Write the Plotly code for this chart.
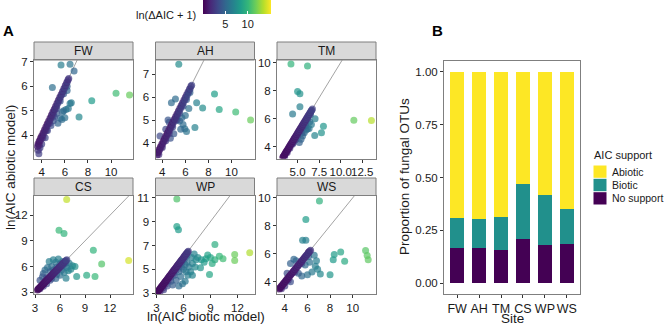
import numpy as np
import plotly.graph_objects as go

W, H = 666, 325

SITES = ["FW", "AH", "TM", "CS", "WP", "WS"]

# (ln AIC biotic model, ln AIC abiotic model) per OTU
FW = [
    (5.67, 6.87), (6.45, 6.90), (6.80, 6.62), (4.92, 5.95), (6.20, 5.83), (6.56, 5.33), (8.33, 5.41),
    (10.43, 5.72), (11.60, 5.65), (7.23, 4.75), (5.60, 4.70), (5.75, 4.65), (5.90, 5.00), (6.10, 5.05),
    (6.30, 5.10), (6.45, 5.30), (5.80, 4.95), (6.00, 4.72), (5.30, 4.90), (5.10, 4.75), (5.40, 4.50),
    (4.50, 4.20), (4.30, 3.90), (4.80, 4.40), (5.00, 4.60), (3.75, 3.25), (3.85, 3.50), (4.00, 3.65),
    (3.70, 3.40), (3.80, 3.60), (4.10, 3.90), (4.40, 4.20), (4.70, 4.50), (5.00, 4.80), (5.30, 5.10),
    (5.60, 5.40), (5.90, 5.70), (6.20, 6.00),
    (3.62, 3.55), (3.68, 3.66), (3.72, 3.62), (3.78, 3.77), (3.84, 3.76), (3.90, 3.89), (3.95, 3.86),
    (4.00, 3.99), (4.06, 3.97), (4.12, 4.11), (4.18, 4.08), (4.24, 4.23), (4.30, 4.21), (4.36, 4.35),
    (4.42, 4.33), (4.48, 4.47), (4.54, 4.45), (4.60, 4.59), (4.66, 4.57), (4.72, 4.71), (4.78, 4.69),
    (4.84, 4.83), (4.90, 4.82), (4.96, 4.95), (5.02, 4.94), (5.08, 5.07), (5.14, 5.06), (5.20, 5.19),
    (5.26, 5.18), (5.32, 5.31), (5.38, 5.30), (5.44, 5.43), (5.50, 5.42), (5.56, 5.55), (5.62, 5.55),
    (5.68, 5.67), (5.74, 5.67), (5.80, 5.79), (5.86, 5.80), (5.92, 5.91), (5.98, 5.92), (6.04, 6.03),
    (6.10, 6.05), (6.16, 6.15), (6.22, 6.18), (6.28, 6.27), (6.34, 6.32),
]
AH = [
    (5.43, 7.43), (8.53, 6.14), (6.98, 5.75), (7.50, 5.53), (8.94, 5.46), (10.37, 5.35), (11.66, 5.00),
    (6.83, 4.67), (4.79, 5.75), (5.14, 5.92), (5.50, 4.96), (5.80, 4.80), (6.10, 4.50), (5.95, 4.62),
    (5.30, 5.00), (5.70, 5.10), (4.60, 4.90), (4.30, 4.60), (4.50, 5.00), (3.80, 4.30), (6.30, 5.50),
    (5.00, 4.40), (4.70, 4.20), (6.00, 5.20), (5.60, 4.60), (3.70, 3.50), (4.00, 3.80), (4.30, 4.10),
    (4.60, 4.40), (4.90, 4.70), (5.20, 5.00), (5.50, 5.30), (5.80, 5.60), (6.10, 5.90), (6.40, 6.20),
    (3.55, 3.47), (3.60, 3.59), (3.66, 3.58), (3.72, 3.71), (3.78, 3.70), (3.84, 3.83), (3.90, 3.82),
    (3.96, 3.95), (4.02, 3.94), (4.08, 4.07), (4.14, 4.06), (4.20, 4.19), (4.26, 4.18), (4.32, 4.31),
    (4.38, 4.30), (4.44, 4.43), (4.50, 4.42), (4.56, 4.55), (4.62, 4.54), (4.68, 4.67), (4.74, 4.66),
    (4.80, 4.79), (4.86, 4.78), (4.92, 4.91), (4.98, 4.90), (5.04, 5.03), (5.10, 5.02), (5.16, 5.15),
    (5.22, 5.14), (5.28, 5.27), (5.34, 5.26), (5.40, 5.39), (5.46, 5.38), (5.52, 5.51), (5.58, 5.50),
    (5.64, 5.63), (5.70, 5.62), (5.76, 5.75), (5.82, 5.74), (5.88, 5.87), (5.94, 5.86), (6.00, 5.99),
    (6.06, 5.98), (6.12, 6.11), (6.18, 6.10), (6.24, 6.23), (6.30, 6.22), (6.36, 6.35), (6.42, 6.36),
    (6.48, 6.47), (6.55, 6.52),
]
TM = [
    (4.23, 9.89), (6.15, 9.75), (5.00, 7.94), (5.27, 7.78), (5.27, 6.85), (4.42, 6.35), (7.03, 6.00),
    (8.00, 5.48), (6.34, 5.32), (7.77, 5.01), (6.99, 4.82), (5.77, 5.01), (5.58, 4.78), (5.20, 4.31),
    (11.53, 5.90), (13.57, 5.88), (6.15, 5.30), (5.90, 5.50), (6.00, 5.20), (5.50, 5.00), (4.80, 4.55),
    (4.50, 4.30), (5.40, 4.55), (6.60, 5.60), (6.40, 5.80), (3.50, 3.30), (3.80, 3.60), (4.10, 3.90),
    (4.40, 4.20), (4.70, 4.50), (5.00, 4.80), (5.30, 5.10), (5.60, 5.40), (5.90, 5.70), (6.20, 6.00),
    (6.50, 6.30),
    (3.28, 3.25), (3.34, 3.33), (3.40, 3.36), (3.46, 3.45), (3.52, 3.47), (3.58, 3.57), (3.64, 3.60),
    (3.70, 3.69), (3.76, 3.72), (3.82, 3.81), (3.88, 3.84), (3.94, 3.93), (4.00, 3.96), (4.06, 4.05),
    (4.12, 4.08), (4.18, 4.17), (4.24, 4.20), (4.30, 4.29), (4.36, 4.32), (4.42, 4.41), (4.48, 4.44),
    (4.54, 4.53), (4.60, 4.56), (4.66, 4.65), (4.72, 4.68), (4.78, 4.77), (4.84, 4.80), (4.90, 4.89),
    (4.96, 4.92), (5.02, 5.01), (5.08, 5.04), (5.14, 5.13), (5.20, 5.16), (5.26, 5.25), (5.32, 5.28),
    (5.38, 5.37), (5.44, 5.40), (5.50, 5.49), (5.56, 5.52), (5.62, 5.61), (5.68, 5.64), (5.74, 5.73),
    (5.80, 5.76), (5.86, 5.85), (5.92, 5.88), (5.98, 5.97), (6.04, 6.00), (6.10, 6.09), (6.16, 6.12),
    (6.22, 6.21), (6.28, 6.24), (6.34, 6.33), (6.40, 6.36), (6.46, 6.45), (6.52, 6.48), (6.58, 6.57),
    (6.64, 6.61), (6.72, 6.70),
]
CS = [
    (6.80, 13.82), (5.88, 10.25), (6.48, 9.86), (10.00, 7.90), (11.00, 6.30), (14.24, 6.72), (9.20, 5.00),
    (10.20, 4.84), (8.00, 4.84), (7.80, 6.00), (6.72, 4.65), (7.50, 6.10), (7.30, 5.70), (5.20, 6.80),
    (4.70, 6.60), (5.50, 6.50), (4.20, 5.60), (4.00, 5.20), (3.60, 4.40), (5.00, 6.00), (6.00, 5.00),
    (5.50, 4.60), (6.50, 5.30), (7.00, 5.50), (6.30, 6.60), (5.80, 6.90), (4.50, 5.90), (3.90, 4.80),
    (4.80, 5.40), (6.20, 5.60), (6.80, 5.90), (7.10, 6.40), (5.60, 5.10), (4.40, 4.00), (5.00, 4.60),
    (3.60, 3.40), (4.00, 3.70), (4.40, 4.70), (4.80, 4.40), (5.20, 5.60), (5.60, 5.90), (6.00, 6.30),
    (6.40, 6.10), (6.70, 6.40),
    (3.30, 3.28), (3.36, 3.35), (3.42, 3.39), (3.48, 3.47), (3.54, 3.51), (3.60, 3.59), (3.66, 3.63),
    (3.72, 3.71), (3.78, 3.75), (3.84, 3.83), (3.90, 3.87), (3.96, 3.95), (4.02, 3.99), (4.08, 4.07),
    (4.14, 4.11), (4.20, 4.19), (4.26, 4.23), (4.32, 4.31), (4.38, 4.35), (4.44, 4.43), (4.50, 4.47),
    (4.56, 4.55), (4.62, 4.59), (4.68, 4.67), (4.74, 4.71), (4.80, 4.79), (4.86, 4.83), (4.92, 4.91),
    (4.98, 4.95), (5.04, 5.03), (5.10, 5.07), (5.16, 5.15), (5.22, 5.19), (5.28, 5.27), (5.34, 5.31),
    (5.40, 5.39), (5.46, 5.43), (5.52, 5.51), (5.58, 5.55), (5.64, 5.63), (5.70, 5.67), (5.76, 5.75),
    (5.82, 5.79), (5.88, 5.87), (5.94, 5.91), (6.00, 5.99), (6.06, 6.03), (6.12, 6.11), (6.18, 6.15),
    (6.24, 6.23), (6.30, 6.27), (6.36, 6.35), (6.42, 6.39), (6.48, 6.47), (6.56, 6.53), (6.64, 6.63),
    (6.72, 6.70), (6.82, 6.80),
]
WP = [
    (5.27, 10.90), (5.27, 8.60), (5.45, 8.33), (13.37, 6.40), (11.70, 6.25), (11.70, 5.75), (9.50, 7.08),
    (8.90, 4.58), (7.60, 6.00), (8.00, 5.80), (8.50, 5.90), (9.00, 6.00), (9.50, 5.80), (10.00, 6.10),
    (8.30, 5.60), (7.90, 5.14), (9.20, 5.50), (7.30, 5.20), (7.00, 5.50), (6.80, 4.80), (6.50, 4.50),
    (6.20, 4.00), (5.90, 3.80), (5.50, 3.60), (6.90, 6.00), (7.20, 6.30), (6.00, 5.00), (5.50, 4.80),
    (5.00, 4.50), (4.60, 4.00), (4.20, 3.60), (3.80, 3.30), (6.40, 5.60), (5.80, 5.20), (7.00, 4.50),
    (6.60, 5.20), (6.20, 5.40), (5.70, 4.40), (5.20, 4.10), (4.80, 3.70), (6.30, 4.80), (7.40, 5.80),
    (8.70, 6.20), (10.40, 5.90), (3.40, 3.15), (3.70, 3.45), (4.00, 3.75), (4.30, 4.05), (4.60, 4.35),
    (4.90, 4.65), (5.20, 4.95), (5.50, 5.25), (5.80, 5.55), (6.10, 5.85), (6.40, 6.15),
    (3.05, 3.03), (3.11, 3.10), (3.17, 3.14), (3.23, 3.22), (3.29, 3.26), (3.35, 3.34), (3.41, 3.38),
    (3.47, 3.46), (3.53, 3.50), (3.59, 3.58), (3.65, 3.62), (3.71, 3.70), (3.77, 3.74), (3.83, 3.82),
    (3.89, 3.86), (3.95, 3.94), (4.01, 3.98), (4.07, 4.06), (4.13, 4.10), (4.19, 4.18), (4.25, 4.22),
    (4.31, 4.30), (4.37, 4.34), (4.43, 4.42), (4.49, 4.46), (4.55, 4.54), (4.61, 4.58), (4.67, 4.66),
    (4.73, 4.70), (4.79, 4.78), (4.85, 4.82), (4.91, 4.90), (4.97, 4.94), (5.03, 5.02), (5.09, 5.06),
    (5.15, 5.14), (5.21, 5.18), (5.27, 5.26), (5.33, 5.30), (5.39, 5.38), (5.45, 5.42), (5.51, 5.50),
    (5.57, 5.54), (5.63, 5.62), (5.69, 5.66), (5.75, 5.74), (5.81, 5.78), (5.87, 5.86), (5.93, 5.90),
    (5.99, 5.98), (6.05, 6.02), (6.11, 6.10), (6.17, 6.14), (6.23, 6.22), (6.29, 6.26), (6.35, 6.34),
    (6.41, 6.38), (6.47, 6.46), (6.55, 6.53),
]
WS = [
    (7.06, 9.78), (5.86, 8.45), (5.57, 6.96), (5.86, 6.96), (11.14, 6.24), (11.28, 5.88), (11.37, 5.57),
    (8.94, 6.12), (8.37, 5.95), (8.28, 5.57), (9.29, 5.47), (8.00, 4.49), (7.14, 4.56), (6.60, 5.90),
    (6.80, 5.50), (6.70, 5.10), (6.90, 4.90), (6.40, 4.70), (6.00, 4.50), (5.50, 4.40), (5.20, 4.60),
    (5.00, 5.50), (4.50, 5.30), (4.80, 5.60), (6.10, 5.80), (4.00, 3.70), (4.50, 4.00), (5.80, 5.20),
    (6.20, 5.40), (3.70, 3.50), (4.30, 4.10), (4.90, 4.70), (5.50, 5.30), (6.10, 6.10), (4.20, 4.60),
    (3.50, 3.47), (3.56, 3.55), (3.62, 3.59), (3.68, 3.67), (3.74, 3.71), (3.80, 3.79), (3.86, 3.83),
    (3.92, 3.91), (3.98, 3.95), (4.04, 4.03), (4.10, 4.07), (4.16, 4.15), (4.22, 4.19), (4.28, 4.27),
    (4.34, 4.31), (4.40, 4.39), (4.46, 4.43), (4.52, 4.51), (4.58, 4.55), (4.64, 4.63), (4.70, 4.67),
    (4.76, 4.75), (4.82, 4.79), (4.88, 4.87), (4.94, 4.91), (5.00, 4.99), (5.06, 5.03), (5.12, 5.11),
    (5.18, 5.15), (5.24, 5.23), (5.30, 5.27), (5.36, 5.35), (5.42, 5.39), (5.48, 5.47), (5.54, 5.51),
    (5.60, 5.59), (5.66, 5.63), (5.72, 5.71), (5.78, 5.75), (5.84, 5.83), (5.90, 5.87), (5.96, 5.95),
    (6.02, 5.99), (6.08, 6.07), (6.14, 6.11), (6.20, 6.19), (6.28, 6.26),
]
POINTS = [FW, AH, TM, CS, WP, WS]

# proportions of OTUs by AIC support (panel B)
SUPPORT = ["No support", "Biotic", "Abiotic"]
NO_SUPPORT = [0.168, 0.168, 0.160, 0.212, 0.179, 0.184]
BIOTIC = [0.142, 0.136, 0.154, 0.255, 0.237, 0.166]
ABIOTIC = [0.690, 0.696, 0.686, 0.533, 0.584, 0.650]
SUPPORT_COLORS = ["#440154", "#21908C", "#FDE725"]

X_RANGES = [[3.33, 11.9], [3.41, 12.0], [2.61, 14.1], [2.88, 14.76], [2.9, 13.9], [3.31, 12.06]]
Y_RANGES = [[3.06, 7.07], [3.32, 7.62], [3.18, 10.18], [2.8, 14.3], [2.94, 11.19], [3.12, 10.17]]
X_TICKS = [[4, 6, 8, 10], [4, 6, 8, 10], [5, 7.5, 10, 12.5], [3, 6, 9, 12], [3, 6, 9, 12], [4, 6, 8, 10]]
X_TICKTEXT = [None, None, ["5.0", "7.5", "10.0", "12.5"], None, None, None]
Y_TICKS = [[4, 5, 6, 7], [4, 5, 6, 7], [4, 6, 8, 10], [3, 6, 9, 12], [3, 5, 7, 9, 11], [4, 6, 8, 10]]
B_TICKS = [0, 0.25, 0.5, 0.75, 1.0]
B_TICKTEXT = ["0.00", "0.25", "0.50", "0.75", "1.00"]

FONT = "Liberation Sans, Arial, sans-serif"
BORDER = "#7f7f7f"
TXT = "#1a1a1a"
TICK_SIZE = 11.5


def fx(px):
    return px / W


def fy(py):
    return 1 - py / H


COLS = [(34, 133), (155.5, 254.5), (277, 376)]
ROWS = [(60, 158.5), (195.5, 294)]
STRIPS = [(42, 60), (178, 195.5)]

fig = go.Figure()
layout = {}
shapes = []
annotations = []

axis_common = dict(
    showline=True, mirror=True, linecolor=BORDER, linewidth=1,
    ticks="outside", ticklen=3, tickcolor="#333333", tickwidth=1, tickangle=0,
    tickfont=dict(size=TICK_SIZE, color=TXT, family=FONT),
    showgrid=False, zeroline=False, fixedrange=True, automargin=False,
)

for i, site in enumerate(SITES):
    r, c = divmod(i, 3)
    n = i + 1
    xa = "x" if n == 1 else f"x{n}"
    ya = "y" if n == 1 else f"y{n}"
    x0, x1 = COLS[c]
    y0, y1 = ROWS[r]
    xkey = "xaxis" if n == 1 else f"xaxis{n}"
    ykey = "yaxis" if n == 1 else f"yaxis{n}"
    xd = dict(axis_common, domain=[fx(x0), fx(x1)], anchor=ya, range=X_RANGES[i], tickvals=X_TICKS[i])
    if X_TICKTEXT[i]:
        xd["ticktext"] = X_TICKTEXT[i]
    yd = dict(axis_common, domain=[fy(y1), fy(y0)], anchor=xa, range=Y_RANGES[i], tickvals=Y_TICKS[i])
    layout[xkey] = xd
    layout[ykey] = yd

    # 1:1 reference line
    fig.add_trace(go.Scatter(x=[0, 20], y=[0, 20], mode="lines", line=dict(color="#8c8c8c", width=0.8),
                             xaxis=xa, yaxis=ya, showlegend=False, hoverinfo="skip"))
    bx = np.array([p[0] for p in POINTS[i]])
    by = np.array([p[1] for p in POINTS[i]])
    col = np.log(np.abs(np.exp(by) - np.exp(bx)) + 1)
    fig.add_trace(go.Scatter(x=bx, y=by, mode="markers",
                             marker=dict(size=7, color=col, coloraxis="coloraxis", opacity=0.7,
                                         line=dict(width=0)),
                             xaxis=xa, yaxis=ya, showlegend=False, hoverinfo="skip"))

    s0, s1 = STRIPS[r]
    shapes.append(dict(type="rect", xref="paper", yref="paper", x0=fx(x0), x1=fx(x1), y0=fy(s1), y1=fy(s0),
                       fillcolor="#d9d9d9", line=dict(color=BORDER, width=1), layer="below"))
    annotations.append(dict(text=site, x=fx((x0 + x1) / 2), y=fy((s0 + s1) / 2), xref="paper", yref="paper",
                            showarrow=False, font=dict(size=12, color=TXT, family=FONT),
                            xanchor="center", yanchor="middle"))

# Panel B bars
for name, vals, colr in zip(SUPPORT, [NO_SUPPORT, BIOTIC, ABIOTIC], SUPPORT_COLORS):
    fig.add_trace(go.Bar(x=SITES, y=vals, name=name, marker=dict(color=colr, line=dict(width=0)),
                         width=0.65, xaxis="x7", yaxis="y7", hoverinfo="skip", showlegend=False))

layout["xaxis7"] = dict(axis_common, domain=[fx(444), fx(580)], anchor="y7", type="category",
                        range=[-0.6, 5.6], tickfont=dict(size=12.5, color=TXT, family=FONT))
layout["yaxis7"] = dict(axis_common, domain=[fy(294), fy(61)], anchor="x7", range=[-0.05, 1.05],
                        tickvals=B_TICKS, ticktext=B_TICKTEXT)


def ann(text, x, y, size=13, angle=0, bold=False, xanchor="center"):
    annotations.append(dict(text=f"<b>{text}</b>" if bold else text, x=fx(x), y=fy(y), xref="paper",
                            yref="paper", showarrow=False, textangle=angle, xanchor=xanchor, yanchor="middle",
                            borderpad=0,
                            font=dict(size=size, color=TXT if not bold else "#000", family=FONT)))


ann("ln(AIC biotic model)", 206, 316.5, size=13.5)
ann("ln(AIC abiotic model)", 10, 168, size=13.5, angle=-90)
ann("Proportion of fungal OTUs", 404, 177, size=13.5, angle=-90)
ann("Site", 512, 318, size=13.5)
ann("A", 8, 30, size=15, bold=True)
ann("B", 437, 30, size=15, bold=True)
ann("ln(\u0394AIC + 1)", 197, 15, size=11, xanchor="right")

# legend for panel B (drawn as keys + labels)
ann("AIC support", 593, 155, size=11, xanchor="left")
LEG_ROWS = [(165, 178.3), (178.3, 191.7), (191.7, 205)]
for (ly0, ly1), name, colr in zip(LEG_ROWS, SUPPORT[::-1], SUPPORT_COLORS[::-1]):
    shapes.append(dict(type="rect", xref="paper", yref="paper", x0=fx(593.5), x1=fx(606.5),
                       y0=fy(ly1 - 0.5), y1=fy(ly0 + 0.5), fillcolor=colr, line=dict(width=0)))
    ann(name, 611, (ly0 + ly1) / 2, size=10.5, xanchor="left")

fig.update_layout(
    width=W, height=H, margin=dict(l=0, r=0, t=0, b=0, autoexpand=False),
    paper_bgcolor="white", plot_bgcolor="white",
    font=dict(family=FONT, size=12, color=TXT),
    barmode="stack", showlegend=False,
    shapes=shapes, annotations=annotations,
    coloraxis=dict(
        colorscale="Viridis", cmin=0, cmax=15.2,
        colorbar=dict(orientation="h", x=fx(203), xanchor="left", y=1, yanchor="top",
                      lenmode="pixels", len=68, thickness=14, xpad=0, ypad=0, outlinewidth=0,
                      tickvals=[5, 10], ticks="inside", ticklen=3, tickcolor="white",
                      tickfont=dict(size=11, color=TXT, family=FONT)),
    ),
    **layout,
)

fig.write_html(
    "out.html",
    config={"displayModeBar": False},
    post_script="document.body.style.margin='0px';document.body.style.overflow='hidden';",
)
